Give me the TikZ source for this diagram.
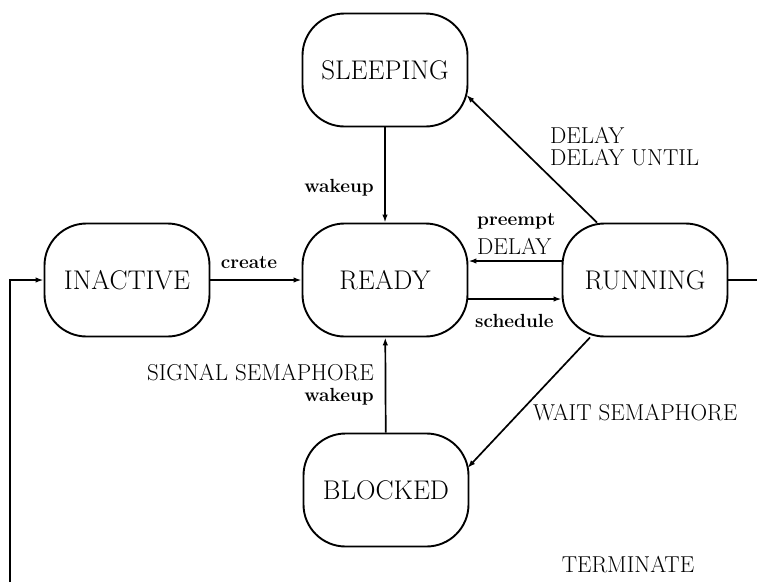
\documentclass[tikz,border=0pt]{standalone}
\usetikzlibrary{arrows.meta}
\begin{document}
\begin{tikzpicture}[x=1pt,y=-1pt,
  state/.style={draw,line width=1.9pt,rounded corners=42pt,minimum width=165pt,
    minimum height=113pt,inner sep=0pt,font=\fontsize{27}{32}\selectfont},
  trans/.style={line width=1.7pt,-{Latex[length=8pt,width=5.5pt]}},
  link/.style={line width=1.7pt},
  upperlabel/.style={font=\fontsize{23}{26}\selectfont,inner sep=0pt},
  lowerlabel/.style={font=\bfseries\fontsize{19}{21}\selectfont,inner sep=0pt}]
\useasboundingbox (0,0) rectangle (757,582);

% states
\node[state] (sleep)    at (385,70)  {SLEEPING};
\node[state] (inactive) at (127,280) {INACTIVE};
\node[state] (ready)    at (385,280) {READY};
\node[state] (running)  at (645,280) {RUNNING};
\node[state] (blocked)  at (386,490) {BLOCKED};

% ends of the terminate loop at the edges
\coordinate (outR) at (757,280);
\coordinate (outB) at (10,582);

% transitions
\draw[trans] (sleep) -- (ready);
\draw[trans] (inactive) -- (ready);
\draw[trans] ([yshift=-19pt]ready.east) -- ([yshift=-19pt]running.west);
\draw[trans] ([yshift=19pt]running.west) -- ([yshift=19pt]ready.east);
\draw[trans] ([xshift=-48pt]running.north) -- ([xshift=-2pt,yshift=-25pt]sleep.east);
\draw[trans] ([xshift=-55pt]running.south) -- ([xshift=-2pt,yshift=22pt]blocked.east);
\draw[trans] (blocked) -- (ready);
\draw[link] (running.east) -- (outR);
\draw[trans] (outB) |- (inactive.west);

% labels
\node[lowerlabel,anchor=east] (lwake1) at (374,188) {wakeup};
\node[lowerlabel] (lcreate) at (249,263) {create};
\node[lowerlabel,anchor=west] (lpre) at (477,221) {preempt};
\node[upperlabel,anchor=west] (ldel) at (477,246) {DELAY};
\node[lowerlabel,anchor=west] (lsched) at (475,321) {schedule};
\node[upperlabel,anchor=west] (ldel2) at (550,135) {DELAY};
\node[upperlabel,anchor=west] (ldelu) at (550,158) {DELAY UNTIL};
\node[upperlabel,anchor=east] (lsig) at (374,373) {SIGNAL SEMAPHORE};
\node[lowerlabel,anchor=east] (lwake2) at (374,397) {wakeup};
\node[upperlabel,anchor=west] (lwait) at (533,413) {WAIT SEMAPHORE};
\node[upperlabel] (lterm) at (628,565) {TERMINATE};
\end{tikzpicture}
\end{document}
